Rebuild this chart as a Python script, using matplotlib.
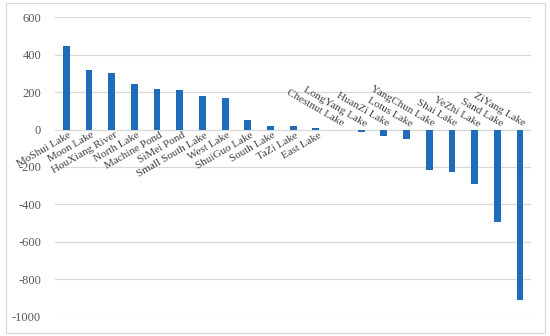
import matplotlib
matplotlib.use('Agg')
import matplotlib.pyplot as plt
from matplotlib.patches import Rectangle

# imena jezera i vrijednosti
lakes = ['MoShui Lake', 'Moon Lake', 'HouXiang River', 'North Lake', 'Machine Pond',
         'SiMei Pond', 'Small South Lake', 'West Lake', 'ShuiGuo Lake', 'South Lake',
         'TaZi Lake', 'East Lake', 'Chestnut Lake', 'LongYang Lake', 'HuanZi Lake',
         'Lotus Lake', 'YangChun Lake', 'Shai Lake', 'YeZhi Lake', 'Sand Lake', 'ZiYang Lake']
values = [445, 319, 303, 244, 214, 209, 180, 166, 49, 19,
          20, 8, -3, -12, -36, -52, -214, -227, -289, -495, -911]
yticks = [600, 400, 200, 0, -200, -400, -600, -800, -1000]

plt.rcParams['font.family'] = ['Liberation Serif', 'DejaVu Serif']

fig = plt.figure(figsize=(5.5, 3.36), dpi=100)
ax = fig.add_axes([0.1, 0.057, 0.866, 0.892])

x = list(range(len(lakes)))
ax.bar(x, values, width=0.3, color='#1F6DBA', zorder=3)

ax.set_xlim(-0.5, len(lakes) - 0.5)
ax.set_ylim(-1000, 600)
ax.set_yticks(yticks)
ax.set_yticklabels([str(t) for t in yticks], fontsize=9, color='#595959')
ax.set_xticks([])
ax.tick_params(axis='y', length=0, pad=10)
ax.grid(axis='y', color='#D9D9D9', linewidth=0.9, zorder=0)
for s in ax.spines.values():
    s.set_visible(False)

# natpisi kategorija
for i, (name, v) in enumerate(zip(lakes, values)):
    if v > 0:
        ax.text(i + 0.1, -6, name, rotation=30, ha='right', va='top',
                rotation_mode='anchor', fontsize=8, color='#404040')
    else:
        ax.text(i + 0.1, 6, name, rotation=-30, ha='right', va='bottom',
                rotation_mode='anchor', fontsize=8, color='#404040')

# okvir oko slike
fig.patches.append(Rectangle((0.01, 0.01), 0.98, 0.98, transform=fig.transFigure,
                             fill=False, edgecolor='#D9D9D9', linewidth=0.9))

fig.savefig('out.png', dpi=100)
